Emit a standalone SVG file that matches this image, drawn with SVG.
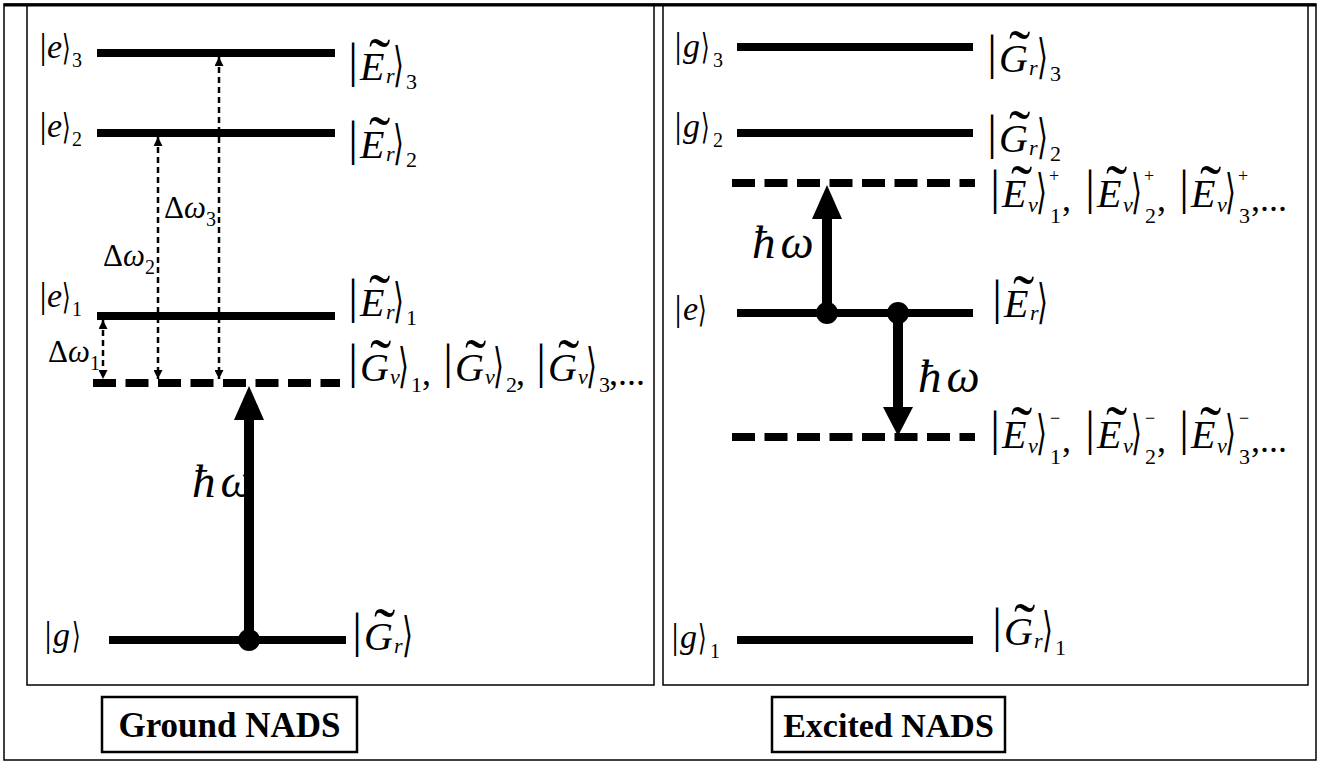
<svg xmlns="http://www.w3.org/2000/svg" width="1320" height="763" viewBox="0 0 1320 763">
<style>
.t{font-family:"Liberation Serif","DejaVu Serif","DejaVu Sans",serif;fill:#000}
.i{font-style:italic}
.b{font-weight:bold}
.lvl{stroke:#000;stroke-width:8;fill:none}
.dash{stroke:#000;stroke-width:8;stroke-dasharray:23 9.5;fill:none}
.frame{fill:none;stroke:#000;stroke-width:1.5}
.box{fill:#fff;stroke:#000;stroke-width:2.5}
.da{stroke:#000;stroke-width:2.5;stroke-dasharray:6 4;fill:none;marker-start:url(#ah);marker-end:url(#ah)}
.shaft{stroke:#000;stroke-width:10}
.bar{font-size:48px}
.cap{font-size:40px;font-style:italic}
.til{font-size:64px}
.sl{font-size:22px;font-style:italic}
.num{font-size:22px}
.ang{font-size:28px}
.sang{font-size:22px}
.sm{font-size:36px}
.let{font-size:34px;font-style:italic}
.sn{font-size:20px}
.sup{font-size:18px}
.hw{font-size:47px;font-style:italic;letter-spacing:5px}
.dw{font-size:31px}
</style>
<defs>
<marker id="ah" viewBox="0 0 10 10" refX="10" refY="5" markerWidth="9" markerHeight="9" markerUnits="userSpaceOnUse" orient="auto-start-reverse">
<path d="M0,0 L10,5 L0,10 z" fill="#000"/>
</marker>
</defs>
<rect class="frame" x="4" y="4" width="1312" height="756"/>
<rect class="frame" x="27" y="5" width="627" height="680" stroke-width="2"/>
<rect class="frame" x="663" y="5" width="645" height="680" stroke-width="2"/>
<line x1="4" y1="5" x2="1316" y2="5" stroke="#000" stroke-width="3"/>

<g id="ground-nads-title">
<rect class="box" x="102" y="697" width="255" height="55"/>
<text class="t b" x="229.5" y="737" font-size="35" text-anchor="middle">Ground NADS</text>
</g>
<g id="excited-nads-title">
<rect class="box" x="772" y="697" width="233" height="55"/>
<text class="t b" x="888.5" y="737" font-size="34" text-anchor="middle">Excited NADS</text>
</g>

<!-- LEFT PANEL -->
<g id="L-e3">
<line class="lvl" x1="97" y1="53" x2="335" y2="53"/>
<text class="t sm" x="39.4" y="58">|</text><text class="t let" x="47" y="58">e</text><text class="t sang" transform="translate(62,60) scale(1,1.6)">⟩</text><text class="t sn" x="72" y="67">3</text>
<text class="t bar" x="348.2" y="77">|</text><text class="t cap" x="360" y="80">E</text><text class="t til" x="369" y="82">˜</text><text class="t sl" x="386" y="83">r</text><text class="t ang" transform="translate(393,81) scale(1,1.7)">⟩</text><text class="t num" x="406" y="89">3</text>
</g>
<g id="L-e2">
<line class="lvl" x1="97" y1="133" x2="335" y2="133"/>
<text class="t sm" x="39.4" y="137">|</text><text class="t let" x="47" y="137">e</text><text class="t sang" transform="translate(62,139) scale(1,1.6)">⟩</text><text class="t sn" x="72" y="146">2</text>
<text class="t bar" x="348.2" y="155">|</text><text class="t cap" x="360" y="158">E</text><text class="t til" x="369" y="160">˜</text><text class="t sl" x="386" y="161">r</text><text class="t ang" transform="translate(393,159) scale(1,1.7)">⟩</text><text class="t num" x="406" y="167">2</text>
</g>
<g id="L-e1">
<line class="lvl" x1="97" y1="316" x2="335" y2="316"/>
<text class="t sm" x="39.4" y="307">|</text><text class="t let" x="47" y="307">e</text><text class="t sang" transform="translate(62,309) scale(1,1.6)">⟩</text><text class="t sn" x="72" y="316">1</text>
<text class="t bar" x="348.2" y="313">|</text><text class="t cap" x="360" y="316">E</text><text class="t til" x="369" y="318">˜</text><text class="t sl" x="386" y="319">r</text><text class="t ang" transform="translate(393,317) scale(1,1.7)">⟩</text><text class="t num" x="406" y="325">1</text>
</g>
<g id="L-virtual">
<line class="dash" x1="93" y1="383" x2="340" y2="383"/>
<text class="t bar" x="348.2" y="378">|</text><text class="t cap" x="360" y="381">G</text><text class="t til" x="370" y="383">˜</text><text class="t sl" x="390" y="384">v</text><text class="t ang" transform="translate(398,382) scale(1,1.7)">⟩</text><text class="t num" x="411" y="392">1</text><text class="t sm" x="422" y="385">,</text>
<text class="t bar" x="443.2" y="378">|</text><text class="t cap" x="455" y="381">G</text><text class="t til" x="465" y="383">˜</text><text class="t sl" x="485" y="384">v</text><text class="t ang" transform="translate(493,382) scale(1,1.7)">⟩</text><text class="t num" x="506" y="392">2</text><text class="t sm" x="516" y="385">,</text>
<text class="t bar" x="536.2" y="378">|</text><text class="t cap" x="548" y="381">G</text><text class="t til" x="558" y="383">˜</text><text class="t sl" x="578" y="384">v</text><text class="t ang" transform="translate(586,382) scale(1,1.7)">⟩</text><text class="t num" x="599" y="392">3</text><text class="t sm" x="609" y="385">,...</text>
</g>
<g id="L-g">
<line class="lvl" x1="109" y1="640" x2="346" y2="640"/>
<text class="t sm" x="44.4" y="646">|</text><text class="t let" x="53" y="646">g</text><text class="t sang" transform="translate(72,648) scale(1,1.6)">⟩</text>
<text class="t bar" x="352.2" y="647">|</text><text class="t cap" x="364" y="650">G</text><text class="t til" x="374" y="652">˜</text><text class="t sl" x="394" y="653">r</text><text class="t ang" transform="translate(402,651) scale(1,1.7)">⟩</text>
</g>

<!-- RIGHT PANEL -->
<g id="R-g3">
<line class="lvl" x1="737" y1="47" x2="973" y2="47"/>
<text class="t sm" x="674.4" y="57">|</text><text class="t let" x="683" y="57">g</text><text class="t sang" transform="translate(701,59) scale(1,1.6)">⟩</text><text class="t sn" x="713" y="67">3</text>
<text class="t bar" x="987.2" y="69">|</text><text class="t cap" x="999" y="72">G</text><text class="t til" x="1009" y="74">˜</text><text class="t sl" x="1029" y="75">r</text><text class="t ang" transform="translate(1037,73) scale(1,1.7)">⟩</text><text class="t num" x="1050" y="81">3</text>
</g>
<g id="R-g2">
<line class="lvl" x1="737" y1="133" x2="973" y2="133"/>
<text class="t sm" x="674.4" y="137">|</text><text class="t let" x="683" y="137">g</text><text class="t sang" transform="translate(701,139) scale(1,1.6)">⟩</text><text class="t sn" x="713" y="147">2</text>
<text class="t bar" x="987.2" y="149">|</text><text class="t cap" x="999" y="152">G</text><text class="t til" x="1009" y="154">˜</text><text class="t sl" x="1029" y="155">r</text><text class="t ang" transform="translate(1037,153) scale(1,1.7)">⟩</text><text class="t num" x="1050" y="161">2</text>
</g>
<g id="R-virtual-plus">
<line class="dash" x1="732" y1="183" x2="975" y2="183"/>
<text class="t bar" x="990.2" y="204">|</text><text class="t cap" x="1002" y="207">E</text><text class="t til" x="1011" y="209">˜</text><text class="t sl" x="1028" y="212">v</text><text class="t ang" transform="translate(1036,208) scale(1,1.7)">⟩</text><text class="t sup" x="1049" y="182">+</text><text class="t num" x="1050" y="223">1</text><text class="t sm" x="1062" y="211">,</text>
<text class="t bar" x="1085.2" y="204">|</text><text class="t cap" x="1097" y="207">E</text><text class="t til" x="1106" y="209">˜</text><text class="t sl" x="1123" y="212">v</text><text class="t ang" transform="translate(1131,208) scale(1,1.7)">⟩</text><text class="t sup" x="1144" y="182">+</text><text class="t num" x="1145" y="223">2</text><text class="t sm" x="1157" y="211">,</text>
<text class="t bar" x="1179.2" y="204">|</text><text class="t cap" x="1191" y="207">E</text><text class="t til" x="1200" y="209">˜</text><text class="t sl" x="1217" y="212">v</text><text class="t ang" transform="translate(1225,208) scale(1,1.7)">⟩</text><text class="t sup" x="1238" y="182">+</text><text class="t num" x="1239" y="223">3</text><text class="t sm" x="1251" y="211">,...</text>
</g>
<g id="R-e">
<line class="lvl" x1="737" y1="313" x2="973" y2="313"/>
<text class="t sm" x="674.4" y="320">|</text><text class="t let" x="683" y="320">e</text><text class="t sang" transform="translate(698,322) scale(1,1.6)">⟩</text>
<text class="t bar" x="992.2" y="314">|</text><text class="t cap" x="1004" y="317">E</text><text class="t til" x="1013" y="319">˜</text><text class="t sl" x="1030" y="320">r</text><text class="t ang" transform="translate(1037,318) scale(1,1.7)">⟩</text>
</g>
<g id="R-virtual-minus">
<line class="dash" x1="732" y1="437" x2="975" y2="437"/>
<text class="t bar" x="990.2" y="445">|</text><text class="t cap" x="1002" y="448">E</text><text class="t til" x="1011" y="450">˜</text><text class="t sl" x="1028" y="453">v</text><text class="t ang" transform="translate(1036,449) scale(1,1.7)">⟩</text><text class="t sup" x="1050" y="424">−</text><text class="t num" x="1050" y="464">1</text><text class="t sm" x="1062" y="452">,</text>
<text class="t bar" x="1085.2" y="445">|</text><text class="t cap" x="1097" y="448">E</text><text class="t til" x="1106" y="450">˜</text><text class="t sl" x="1123" y="453">v</text><text class="t ang" transform="translate(1131,449) scale(1,1.7)">⟩</text><text class="t sup" x="1145" y="424">−</text><text class="t num" x="1145" y="464">2</text><text class="t sm" x="1157" y="452">,</text>
<text class="t bar" x="1179.2" y="445">|</text><text class="t cap" x="1191" y="448">E</text><text class="t til" x="1200" y="450">˜</text><text class="t sl" x="1217" y="453">v</text><text class="t ang" transform="translate(1225,449) scale(1,1.7)">⟩</text><text class="t sup" x="1239" y="424">−</text><text class="t num" x="1239" y="464">3</text><text class="t sm" x="1251" y="452">,...</text>
</g>
<g id="R-g1">
<line class="lvl" x1="737" y1="640" x2="973" y2="640"/>
<text class="t sm" x="671.4" y="648">|</text><text class="t let" x="680" y="648">g</text><text class="t sang" transform="translate(698,650) scale(1,1.6)">⟩</text><text class="t sn" x="710" y="658">1</text>
<text class="t bar" x="992.2" y="642">|</text><text class="t cap" x="1004" y="645">G</text><text class="t til" x="1014" y="647">˜</text><text class="t sl" x="1034" y="648">r</text><text class="t ang" transform="translate(1042,646) scale(1,1.7)">⟩</text><text class="t num" x="1055" y="655">1</text>
</g>

<g id="connectors">
<line class="da" x1="103" y1="320" x2="103" y2="379"/>
<line class="da" x1="158" y1="137" x2="158" y2="379"/>
<line class="da" x1="219" y1="57" x2="219" y2="379"/>
<text class="t dw" x="48" y="362">Δ<tspan class="i">ω</tspan></text><text class="t sn" x="90" y="370" font-size="18">1</text>
<text class="t dw" x="103" y="266">Δ<tspan class="i">ω</tspan></text><text class="t sn" x="145" y="274" font-size="18">2</text>
<text class="t dw" x="164" y="218">Δ<tspan class="i">ω</tspan></text><text class="t sn" x="206" y="226" font-size="18">3</text>

<line class="shaft" x1="249" y1="640" x2="249" y2="418"/>
<polygon points="249,386 234,420 264,420" fill="#000"/>
<circle cx="249" cy="640" r="11" fill="#000"/>
<text class="t hw" x="192" y="497">ħω</text>

<line class="shaft" x1="827" y1="313" x2="827" y2="216"/>
<polygon points="827,185 812,219 842,219" fill="#000"/>
<circle cx="827" cy="313" r="11" fill="#000"/>
<text class="t hw" x="752" y="258">ħω</text>

<line class="shaft" x1="898" y1="313" x2="898" y2="410"/>
<polygon points="898,436 883,407 913,407" fill="#000"/>
<circle cx="898" cy="313" r="11" fill="#000"/>
<text class="t hw" x="918" y="392">ħω</text>
</g>
</svg>
